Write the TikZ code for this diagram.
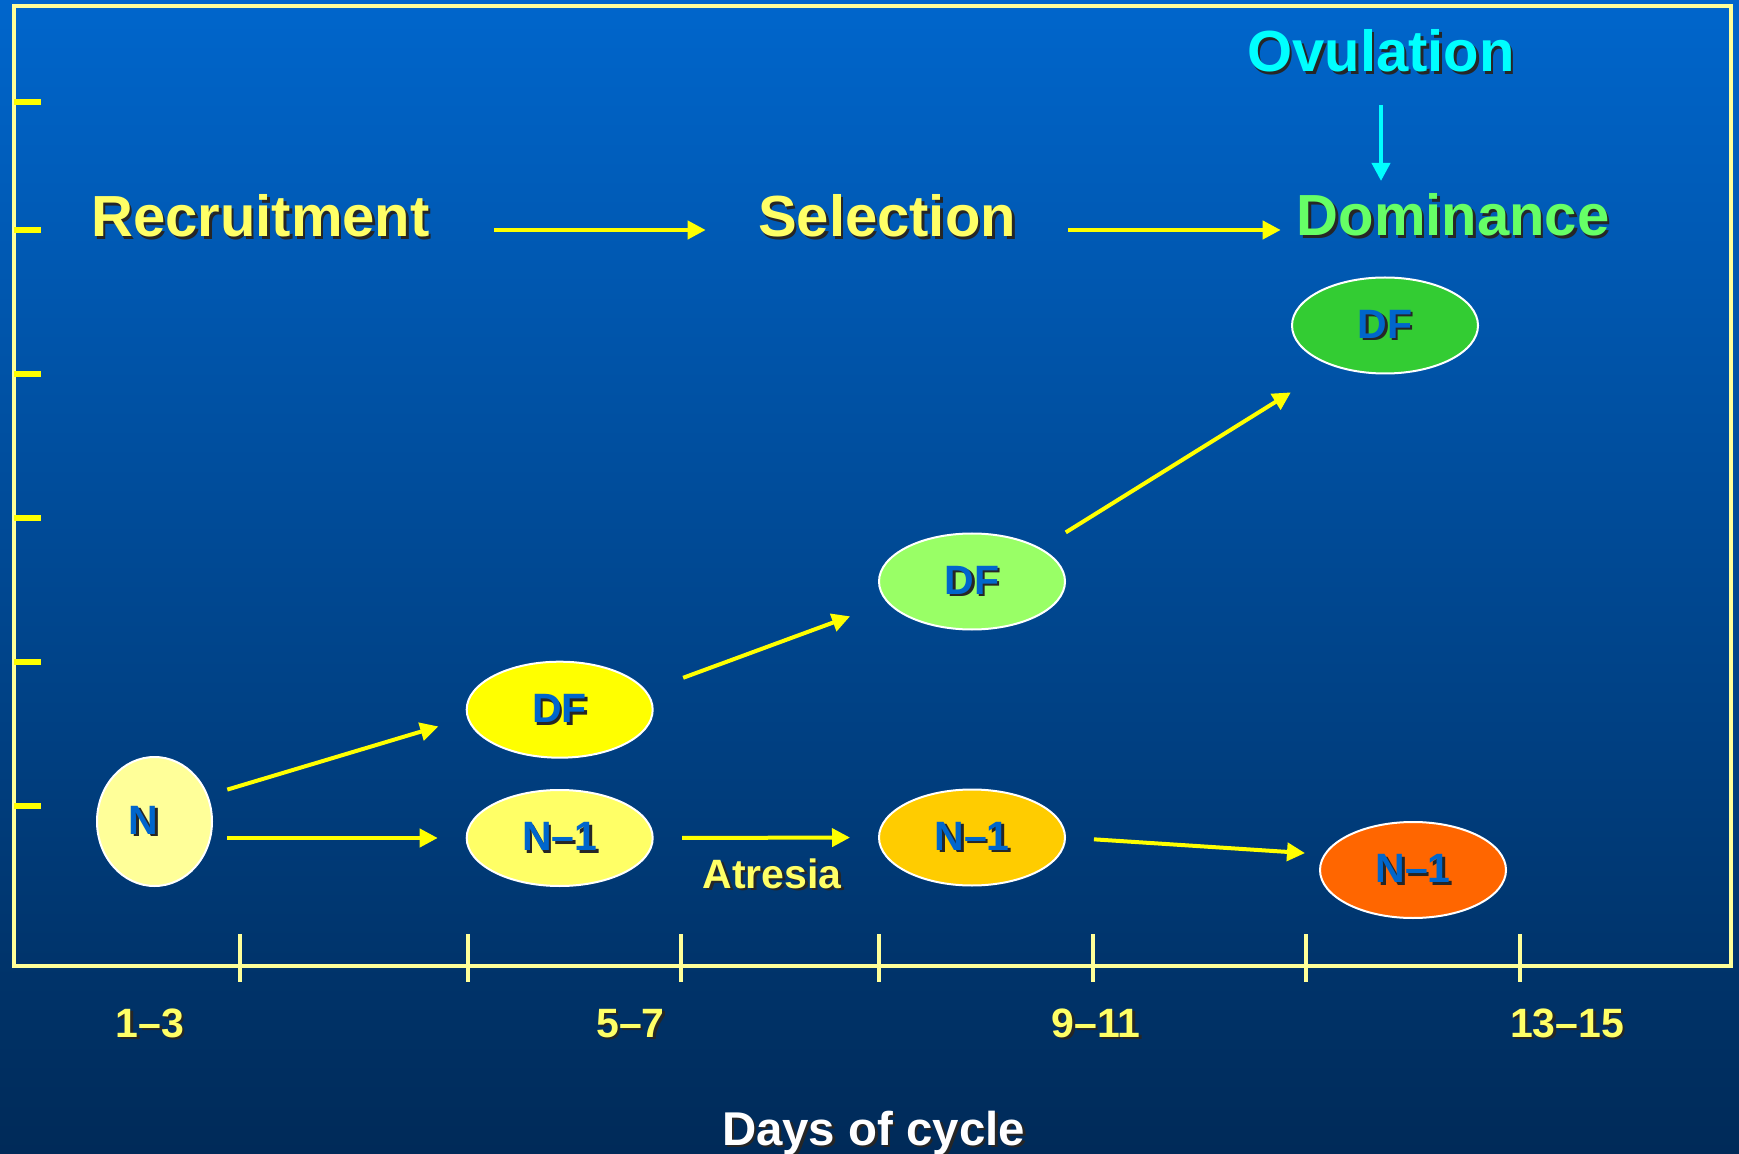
\documentclass[tikz,border=0pt]{standalone}
\usepackage{fontspec}
\setmainfont{Liberation Sans}
\usetikzlibrary{arrows.meta,shapes.geometric}
\definecolor{SkyTop}{HTML}{0066CC}
\definecolor{SkyBot}{HTML}{002A58}
\definecolor{AxisC}{HTML}{FFFF99}
\definecolor{Sun}{HTML}{FFFF00}
\definecolor{Pale}{HTML}{FFFF66}
\definecolor{Cream}{HTML}{FFFF99}
\definecolor{Aqua}{HTML}{00FFFF}
\definecolor{Leaf}{HTML}{66FF66}
\definecolor{LabelBlue}{HTML}{0066CC}
\definecolor{FolLime}{HTML}{99FF66}
\definecolor{FolGreen}{HTML}{33CC33}
\definecolor{FolAmber}{HTML}{FFCC00}
\definecolor{FolOrange}{HTML}{FF6600}
\newcommand{\drop}[1]{\makebox[0pt][l]{\hspace{1.3pt}\raisebox{-1.3pt}{\color{black!85}#1}}#1}

\begin{document}
\begin{tikzpicture}[x=0.5pt, y=-0.5pt,
    phase/.style={anchor=base, inner sep=0pt, font=\fontsize{29}{34}\selectfont\bfseries},
    tag/.style={anchor=base, inner sep=0pt, text=Pale, font=\fontsize{20.5}{24}\selectfont\bfseries},
    fol/.style={ellipse, draw=white, line width=1pt, minimum width=93pt, minimum height=48pt, inner sep=0pt, text=LabelBlue, font=\fontsize{20.5}{24}\selectfont\bfseries},
    flow/.style={Sun, line width=2pt, -{Triangle[length=9pt, width=9pt]}},
    axis/.style={AxisC, line width=2.3pt},
    ytick/.style={Sun, line width=2.6pt}]
      \useasboundingbox (0,0) rectangle (1739,1154);
      \shade[top color=SkyTop, bottom color=SkyBot] (0,0) rectangle (1739,1154);
      \draw[axis] (14,6) rectangle (1731,966);
      \foreach \y in {102,230,374,518,662,806}
        \draw[ytick] (14,\y) -- (41,\y);
      \foreach \x in {240,468,681,879,1093,1306,1520}
        \draw[axis] (\x,934) -- (\x,982);

      \node[phase, text=Pale] (rec) at (260.5,237) {\drop{Recruitment}};
      \node[phase, text=Pale] (sel) at (887,237) {\drop{Selection}};
      \node[phase, text=Leaf] (dom) at (1453,236) {\drop{Dominance}};
      \node[phase, text=Aqua] (ovu) at (1381,72) {\drop{Ovulation}};
      \draw[flow, shorten <=32pt, shorten >=26pt] ([yshift=3.5pt]rec.base east) -- ([yshift=3.5pt]sel.base west);
      \draw[flow, shorten <=26pt, shorten >=7.8pt] ([yshift=3.5pt]sel.base east) -- ([yshift=3pt]dom.base west);
      \draw[flow, Aqua, shorten <=14.7pt, shorten >=6.3pt] (ovu.south) -- (ovu.south |- dom.north);

      \node[fol, fill=Cream, minimum width=57.5pt, minimum height=64.5pt] (N) at (154.5,821.5) {\drop{N}\kern11pt};
      \node[fol, fill=Sun] (DF1) at (559.7,709.7) {\drop{DF}};
      \node[fol, fill=Pale] (N1a) at (559.7,838) {\drop{N\textendash1}};
      \node[fol, fill=FolLime] (DF2) at (972,581.5) {\drop{DF}};
      \node[fol, fill=FolAmber] (N1b) at (972,837.5) {\drop{N\textendash1}};
      \node[fol, fill=FolGreen] (DF3) at (1385,325.5) {\drop{DF}};
      \node[fol, fill=FolOrange] (N1c) at (1413,870) {\drop{N\textendash1}};

      \draw[flow, shorten <=10pt, shorten >=15pt] (N.26) -- (DF1.185);
      \draw[flow, shorten <=7.2pt, shorten >=14pt] (N.east |- N1a.west) -- (N1a.west);
      \draw[flow, shorten <=19.4pt, shorten >=19.8pt] (DF1.12) -- (DF2.194);
      \draw[flow, shorten <=14.2pt, shorten >=14pt] (N1a.east) -- (N1b.west);
      \draw[flow, shorten <=14.8pt, shorten >=24.75pt] (DF2.26) -- (DF3.218);
      \draw[flow, shorten <=14pt, shorten >=9.5pt] (N1b.east) -- (N1c.170);

      \node[tag] (atr) at (772,888) {\drop{Atresia}};
      \node[tag] (d1) at (150,1037) {\drop{1\textendash3}};
      \node[tag] (d2) at (630.5,1037) {\drop{5\textendash7}};
      \node[tag] (d3) at (1096,1037) {\drop{9\textendash11}};
      \node[tag] (d4) at (1567,1037) {\drop{13\textendash15}};
      \node[tag, text=white, font=\fontsize{23.7}{28}\selectfont\bfseries] (days) at (873.5,1145) {\drop{Days of cycle}};
    \end{tikzpicture}
\end{document}
